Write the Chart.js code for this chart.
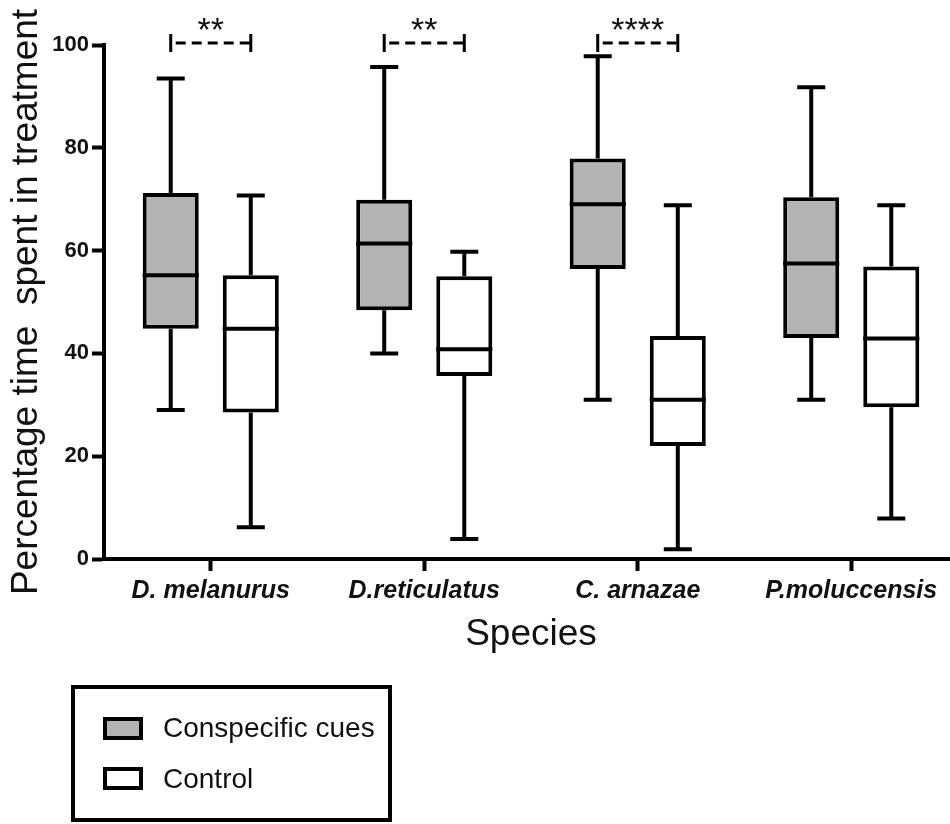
<!DOCTYPE html>
<html>
<head>
<meta charset="utf-8">
<script src="https://cdn.jsdelivr.net/npm/chart.js@4"></script>
<style>
  html, body { margin: 0; padding: 0; background: #fff; overflow: hidden; }
  #wrap { position: relative; width: 950px; height: 824px; overflow: hidden; }
  #grafico { position: absolute; left: 0; top: 0; }
  #legenda { position: absolute; left: 71px; top: 685px; width: 321px; height: 137px; box-sizing: border-box;
             border: 4px solid #000; font-family: "Liberation Sans", Arial, sans-serif; }
  .sw { position: absolute; left: 28px; width: 40px; height: 23px; box-sizing: border-box; border: 4px solid #000; }
  .lt { position: absolute; left: 88px; font-size: 28px; line-height: 28px; color: #111; white-space: nowrap; }
</style>
</head>
<body>
<div id="wrap">
  <canvas id="grafico" width="962" height="824"></canvas>
  <div id="legenda"></div>
</div>
<script>
const especies = ["D. melanurus", "D.reticulatus", "C. arnazae", "P.moluccensis"];
const series = ["Conspecific cues", "Control"];
const cores = ["#b3b3b3", "#ffffff"];

// Conspecific cues
const cuesMin = [29, 40, 31, 31];
const cuesQ1 = [44.8, 48.4, 56.4, 43];
const cuesMediana = [55.2, 61.4, 69, 57.5];
const cuesQ3 = [71.2, 69.9, 77.9, 70.4];
const cuesMax = [93.5, 95.7, 97.8, 91.8];

// Control
const ctrlMin = [6.2, 3.9, 1.9, 7.9];
const ctrlQ1 = [28.5, 35.6, 22, 29.5];
const ctrlMediana = [44.8, 40.8, 31, 42.9];
const ctrlQ3 = [55.2, 55, 43.4, 56.9];
const ctrlMax = [70.7, 59.8, 68.8, 68.8];

// significancia entre os pares
const sigTextos = ["**", "**", "****", ""];
const sigNivel = 100.4;

const caixas = (q1, q3) => q1.map((v, i) => [v, q3[i]]);
const fonte = "Liberation Sans";

const caixaPlugin = {
  id: "caixas",
  afterDatasetsDraw(chart) {
    const ctx = chart.ctx;
    const y = chart.scales.y;
    ctx.save();
    ctx.strokeStyle = "#000";
    ctx.lineWidth = 4;
    chart.data.datasets.forEach((ds, d) => {
      chart.getDatasetMeta(d).data.forEach((bar, i) => {
        const { x, width } = bar.getProps(["x", "width"], true);
        const yMed = y.getPixelForValue(ds.medianas[i]);
        const yQ1 = y.getPixelForValue(ds.data[i][0]);
        const yQ3 = y.getPixelForValue(ds.data[i][1]);
        const yMin = y.getPixelForValue(ds.minimos[i]);
        const yMax = y.getPixelForValue(ds.maximos[i]);
        const cap = width / 4;
        ctx.beginPath();
        ctx.moveTo(x - width / 2, yMed); ctx.lineTo(x + width / 2, yMed);
        ctx.moveTo(x, yQ3); ctx.lineTo(x, yMax);
        ctx.moveTo(x, yQ1); ctx.lineTo(x, yMin);
        ctx.moveTo(x - cap, yMax); ctx.lineTo(x + cap, yMax);
        ctx.moveTo(x - cap, yMin); ctx.lineTo(x + cap, yMin);
        ctx.stroke();
      });
    });
    ctx.restore();
  }
};

const sigPlugin = {
  id: "sig",
  afterDraw(chart) {
    const ctx = chart.ctx;
    const yb = chart.scales.y.getPixelForValue(sigNivel);
    const a = chart.getDatasetMeta(0).data, b = chart.getDatasetMeta(1).data;
    sigTextos.forEach((txt, i) => {
      if (!txt) return;
      const x1 = a[i].x, x2 = b[i].x;
      ctx.save();
      ctx.strokeStyle = "#000";
      ctx.lineWidth = 3;
      ctx.beginPath();
      ctx.moveTo(x1, yb - 9); ctx.lineTo(x1, yb + 9);
      ctx.moveTo(x2, yb - 9); ctx.lineTo(x2, yb + 9);
      ctx.stroke();
      ctx.setLineDash([10, 6]);
      ctx.beginPath();
      ctx.moveTo(x1 + 5, yb); ctx.lineTo(x2, yb);
      ctx.stroke();
      ctx.fillStyle = "#111";
      ctx.font = "34px '" + fonte + "'";
      ctx.textAlign = "center";
      ctx.textBaseline = "alphabetic";
      ctx.fillText(txt, (x1 + x2) / 2, yb - 2);
      ctx.restore();
    });
  }
};

new Chart(document.getElementById("grafico").getContext("2d"), {
  type: "bar",
  data: {
    labels: especies,
    datasets: [
      { label: series[0], data: caixas(cuesQ1, cuesQ3), medianas: cuesMediana, minimos: cuesMin, maximos: cuesMax,
        backgroundColor: cores[0], borderColor: "#000", borderWidth: 4, borderSkipped: false },
      { label: series[1], data: caixas(ctrlQ1, ctrlQ3), medianas: ctrlMediana, minimos: ctrlMin, maximos: ctrlMax,
        backgroundColor: cores[1], borderColor: "#000", borderWidth: 4, borderSkipped: false }
    ]
  },
  options: {
    responsive: false,
    animation: false,
    layout: { padding: { top: 45, right: 4, bottom: 165, left: 0 } },
    datasets: { bar: { categoryPercentage: 0.75, barPercentage: 0.7 } },
    plugins: { legend: { display: false }, tooltip: { enabled: false } },
    scales: {
      x: {
        grid: { offset: false, drawOnChartArea: false, tickLength: 12, tickWidth: 4, tickColor: "#000" },
        border: { color: "#000", width: 4 },
        ticks: { color: "#111", padding: 5, font: { family: fonte, size: 25, weight: "bold", style: "italic" } },
        title: { display: true, text: "Species", color: "#111", font: { family: fonte, size: 37 }, padding: { top: 0, bottom: 2 } },
        afterFit: s => { s.height = 100; }
      },
      y: {
        min: 0,
        max: 100,
        grid: { drawOnChartArea: false, tickLength: 12, tickWidth: 4, tickColor: "#000" },
        border: { color: "#000", width: 4 },
        ticks: { stepSize: 20, color: "#111", padding: 3, font: { family: fonte, size: 22, weight: "bold" } },
        title: { display: true, text: "Percentage time  spent in treatment", color: "#111", font: { family: fonte, size: 37 }, padding: { top: 4.5, bottom: 0 } },
        afterFit: s => { s.width = 104; }
      }
    }
  },
  plugins: [caixaPlugin, sigPlugin]
});

// legenda
const legenda = document.getElementById("legenda");
const topos = [28, 78];
series.forEach((nome, i) => {
  legenda.innerHTML += `
    <div class="sw" style="top:${topos[i]}px;background:${cores[i]}"></div>
    <div class="lt" style="top:${topos[i] - 3 + i}px">${nome}</div>
  `;
});
</script>
</body>
</html>
